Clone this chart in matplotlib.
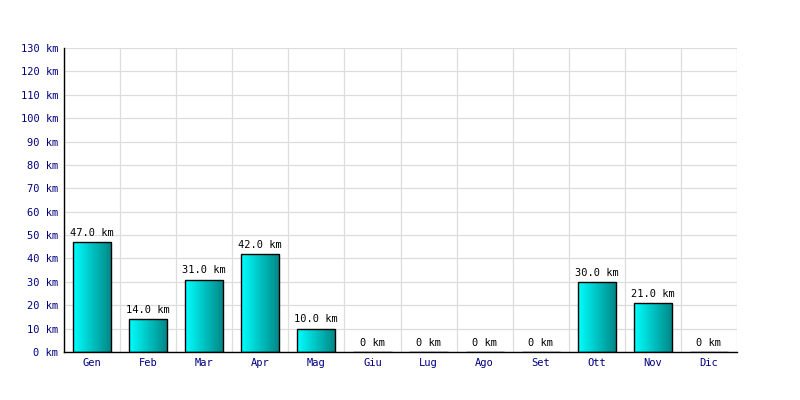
import matplotlib
matplotlib.use("Agg")
import matplotlib.pyplot as plt
import numpy as np
from matplotlib.colors import LinearSegmentedColormap

months = ["Gen", "Feb", "Mar", "Apr", "Mag", "Giu", "Lug", "Ago", "Set", "Ott", "Nov", "Dic"]
km = [47.0, 14.0, 31.0, 42.0, 10.0, 0, 0, 0, 0, 30.0, 21.0, 0]
yticks = list(range(0, 131, 10))
ytick_labels = [f"{v} km" for v in yticks]

plt.rcParams['font.family'] = ['DejaVu Sans Mono']

fig = plt.figure(figsize=(8, 4), dpi=100)
ax = fig.add_axes([0.08, 0.12, 0.84125, 0.76])

x = np.arange(len(months))
bars = ax.bar(x, km, width=0.68, color='none', edgecolor='black', linewidth=1, zorder=3)

cmap = LinearSegmentedColormap.from_list("cyan", ["#00ffff", "#008585"])
grad = np.linspace(0, 1, 256).reshape(1, -1)
for b in bars:
    h = b.get_height()
    if h <= 0:
        continue
    x0, w = b.get_x(), b.get_width()
    im = ax.imshow(grad, cmap=cmap, aspect='auto', extent=[x0, x0 + w, 0, h],
                   zorder=2, interpolation='bilinear')
    im.set_clip_path(b)

for xi, v in zip(x, km):
    label = f"{v:.1f} km" if v > 0 else "0 km"
    ax.annotate(label, (xi, v), xytext=(0, 3), textcoords='offset points',
                ha='center', va='bottom', fontsize=7.5, color='black')

ax.set_xlim(-0.5, len(months) - 0.5)
ax.set_ylim(0, 130)
ax.set_yticks(yticks)
ax.set_yticklabels(ytick_labels, fontsize=7.5, color='#000080')
ax.set_xticks(x)
ax.set_xticklabels(months, fontsize=7.5, color='#000080')
ax.set_xticks(np.arange(-0.5, len(months), 1.0), minor=True)
ax.tick_params(axis='both', which='both', length=0, pad=4)
ax.grid(True, axis='y', which='major', color='#dddddd', linewidth=0.9, zorder=0)
ax.grid(True, axis='x', which='minor', color='#dddddd', linewidth=0.9, zorder=0)
ax.set_axisbelow(True)
for s in ['top', 'right']:
    ax.spines[s].set_visible(False)
ax.spines['left'].set_linewidth(1.0)
ax.spines['bottom'].set_linewidth(1.0)

fig.savefig("out.png", dpi=100)
